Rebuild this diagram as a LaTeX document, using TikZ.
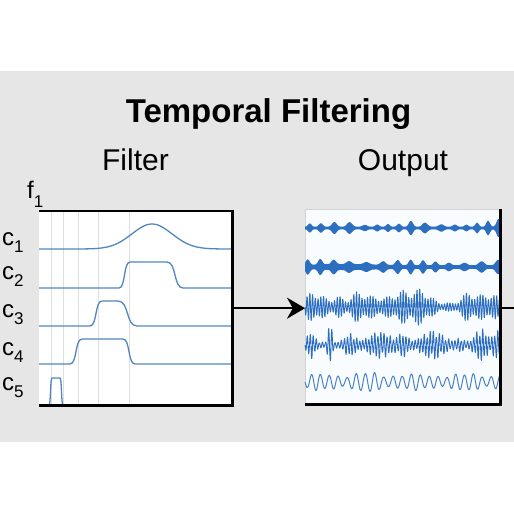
\documentclass[tikz,border=0pt]{standalone}
\usepackage{fontspec}
\setmainfont{Liberation Sans}
\usetikzlibrary{arrows.meta}
\definecolor{bggray}{HTML}{E6E6E6}
\definecolor{gridc}{HTML}{DEDEDE}
\definecolor{fcurvec}{HTML}{5087BF}
\definecolor{wavec}{HTML}{2C6EBF}
\definecolor{wavel}{HTML}{4C82C2}
\definecolor{outbg}{HTML}{F9FCFF}
\begin{document}
\begin{tikzpicture}[x=1pt,y=-1pt,
  declare function={
    q(\x)=\x*\x;
    g(\x,\c,\w)=exp(-q((\x-\c)/\w));
    ea(\x)=1.4+6*q(q(sin(14*\x+40*sin(4.3*\x)+10)))*(0.35+0.65*q(sin(2.3*\x+20)))*(0.6+0.4*q(sin(5.1*\x+70)))+6*g(\x,193,2.5);
    eb(\x)=1.8+5.5*q(q(sin(12.5*\x+40*sin(3.1*\x)+50)))*(0.4+0.6*q(sin(1.9*\x+70)))+1.2*g(\x,40,40);
    ec(\x)=(2.5+14*g(\x,10,12)+8*g(\x,32,7)+14*g(\x,55,13)+5*g(\x,73,6)+14*g(\x,96,17)+13*g(\x,118,12)+2*g(\x,140,5)+13*g(\x,165,12)+12*g(\x,186,10))*(0.75+0.25*sin(23*\x));
    ed(\x)=(3+11*g(\x,6,5)+22*g(\x,25,2.5)+9*g(\x,45,7)+11*g(\x,75,14)+9*g(\x,98,6)+12*g(\x,128,14)+4*g(\x,155,5)+14*g(\x,176,8)+12*g(\x,192,5))*(0.5+0.5*abs(sin(37*\x+20*sin(11*\x))));
    ee(\x)=4+4.5*q(sin(3.7*\x+40))*(0.5+0.5*q(sin(1.3*\x+10)))+2*q(sin(9*\x));
  },
  lab/.style={font=\fontsize{24}{24}\selectfont, anchor=base west, inner sep=0pt},
  subtitle/.style={font=\fontsize{30}{30}\selectfont, anchor=base, inner sep=0pt},
  fcurve/.style={fcurvec, line width=1.3pt},
  gridln/.style={gridc, line width=0.8pt},
  frame/.style={black, line width=2.6pt},
  wave/.style={wavec},
  waveline/.style={wavec, line width=0.9pt, line join=round},
]
\useasboundingbox (0,0) rectangle (514,514);
\fill[white] (0,0) rectangle (514,514);
\fill[bggray] (0,71) rectangle (514,442);

% titles
\node[font=\fontsize{33}{33}\selectfont\bfseries, anchor=base, inner sep=0pt] (ttl) at (268.5,122) {Temporal Filtering};
\node[subtitle] (sfilt) at (135.5,170) {Filter};
\node[subtitle] (sout) at (403,170) {Output};

% row labels
\node[lab] (f1) at (27,198) {f\raisebox{-9pt}{\fontsize{17}{17}\selectfont 1}};
\node[lab] (lc1) at (2,245) {c\raisebox{-7pt}{\fontsize{17}{17}\selectfont 1}};
\node[lab] (lc2) at (2,279) {c\raisebox{-7pt}{\fontsize{17}{17}\selectfont 2}};
\node[lab] (lc3) at (2,317) {c\raisebox{-7pt}{\fontsize{17}{17}\selectfont 3}};
\node[lab] (lc4) at (2,355) {c\raisebox{-7pt}{\fontsize{17}{17}\selectfont 4}};
\node[lab] (lc5) at (2,390) {c\raisebox{-7pt}{\fontsize{17}{17}\selectfont 5}};

% filter box
\node[fill=white, minimum width=193pt, minimum height=194pt, inner sep=0pt, anchor=north west] (filt) at (39,211) {};
\foreach \gx in {51,63,78,98,129} \draw[gridln] (\gx,212) -- (\gx,404);
\draw[fcurve] plot[domain=39:232, samples=160] (\x,{249-25*exp(-((\x-152)/20)*((\x-152)/20)/2)});
\draw[fcurve] (39,288) -- (119,288) .. controls (125.6,288) and (123.4,262) .. (130,262) -- (167,262)
   .. controls (176.6,262) and (173.4,288) .. (183,288) -- (232,288);
\draw[fcurve] (39,326) -- (90,326) .. controls (97.2,326) and (94.8,301) .. (102,301) -- (118,301)
   .. controls (129.4,301) and (125.6,326) .. (137,326) -- (232,326);
\draw[fcurve] (39,364) -- (70,364) .. controls (77.2,364) and (74.8,339) .. (82,339) -- (123,339)
   .. controls (130.2,339) and (127.8,364) .. (135,364) -- (232,364);
\draw[fcurve] (49,405) .. controls (50.8,405) and (50.2,378) .. (52,378) -- (60,378)
   .. controls (61.8,378) and (61.2,405) .. (63,405);
\draw[frame] (filt.north west) -- (filt.north east) -- (filt.south east) -- (filt.south west);

% output box
\node[fill=outbg, draw=gray!35, line width=0.6pt, minimum width=195pt, minimum height=195pt, inner sep=0pt, anchor=north west] (outp) at (305,209) {};
\fill[wave] plot[domain=0:195, samples=400] ({305+\x},{228-ea(\x)}) -- plot[domain=195:0, samples=400] ({305+\x},{228+ea(\x)}) -- cycle;
\fill[wave] plot[domain=0:195, samples=400] ({305+\x},{267-eb(\x)}) -- plot[domain=195:0, samples=400] ({305+\x},{267+eb(\x)}) -- cycle;
\draw[waveline] plot[domain=0:195, samples=700] ({305+\x},{307+ec(\x)*sin(131*mod(\x,2.748092))});
\draw[waveline] plot[domain=0:195, samples=700] ({305+\x},{345+ed(\x)*sin(117*mod(\x,3.076923)+30*sin(6*\x))});
\draw[waveline, wavel, line width=1pt] plot[domain=0:195, samples=400] ({305+\x},{382+ee(\x)*sin(40*\x+25*sin(2.4*\x))});
\draw[frame] (outp.north east) -- (outp.south east) -- (outp.south west);

% connectors
\draw[black, line width=2.2pt, -{Stealth[length=18pt, width=21pt]}] (filt.east) -- (filt.east -| outp.west);
\coordinate (rend) at (514,308);
\draw[black, line width=2.2pt] (outp.east |- rend) -- (rend);
\end{tikzpicture}
\end{document}
